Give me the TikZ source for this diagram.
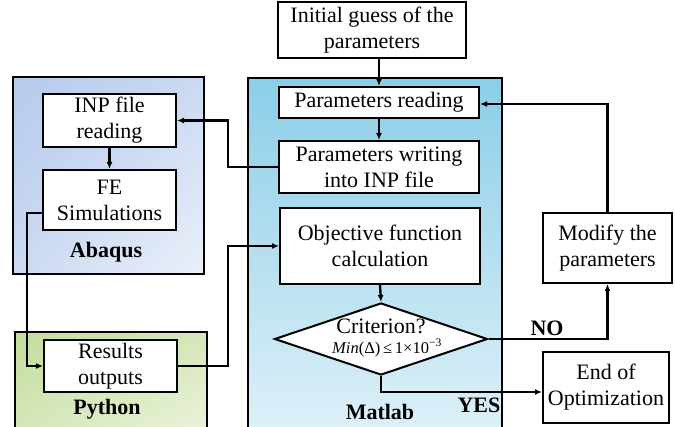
\documentclass[tikz,border=0pt]{standalone}
\usepackage{fontspec}
\setmainfont{Liberation Serif}
\usetikzlibrary{shapes.geometric,calc,arrows.meta,shadings}
\definecolor{abaTL}{HTML}{B6CAEC}
\definecolor{abaBR}{HTML}{EAF0FA}
\definecolor{matT}{HTML}{8CCEE8}
\definecolor{matB}{HTML}{DDF0F8}
\definecolor{pyTL}{HTML}{C4DC9E}
\definecolor{pyBR}{HTML}{EAF3DA}
\begin{document}
\begin{tikzpicture}[x=1pt,y=-1pt,
  every node/.style={font=\fontsize{22}{26}\selectfont},
  stepbox/.style={draw=black,fill=white,line width=2pt,align=center,inner sep=0pt},
  panel/.style={draw=black,line width=2.6pt},
  conn/.style={line width=2.4pt,line join=miter,-{Latex[length=7pt,width=6pt]}},
  lbl/.style={font=\fontsize{22}{26}\selectfont\bfseries}]
\useasboundingbox (0,0) rectangle (675,427);
% panels
\shade[upper left=abaTL,upper right=abaTL!60!abaBR,lower left=abaTL!60!abaBR,lower right=abaBR] (13,77) rectangle (204,274);
\draw[panel] (13,77) rectangle (204,274);
\shade[top color=matT,bottom color=matB] (248,78) rectangle (502,430);
\draw[panel] (248,430) -- (248,78) -- (502,78) -- (502,430);
\shade[upper left=pyTL,upper right=pyTL!55!pyBR,lower left=pyTL!55!pyBR,lower right=pyBR] (15,332) rectangle (207,430);
\draw[panel] (15,430) -- (15,332) -- (207,332) -- (207,430);
% nodes
\node[stepbox,minimum width=188pt,minimum height=56pt] (init) at (372,30) {Initial guess of the\\parameters};
\node[stepbox,minimum width=200pt,minimum height=31pt] (pread) at (379,102.5) {Parameters reading};
\node[stepbox,minimum width=200pt,minimum height=52pt] (pwrite) at (379,167) {Parameters writing\\into INP file};
\node[stepbox,minimum width=200pt,minimum height=76pt] (obj) at (380,246) {Objective function\\calculation};
\node[draw=black,fill=white,line width=2pt,diamond,aspect=2.96,minimum width=213pt,minimum height=72pt,inner sep=0pt,align=center] (crit) at (381,339) {};
\node[inner sep=0pt] (crittxt) at (381,326) {Criterion?};
\node[inner sep=0pt,font=\fontsize{16.5}{18}\selectfont] (critmath) at (387,348) {\textit{Min}(Δ)\,≤\,1×10\textsuperscript{−3}};
\node[stepbox,minimum width=129pt,minimum height=70pt] (modify) at (607.5,248) {Modify the\\parameters};
\node[stepbox,minimum width=126pt,minimum height=71pt] (endopt) at (606,387.5) {End of\\Optimization};
\node[stepbox,minimum width=133pt,minimum height=53pt] (inp) at (109.5,120.5) {INP file\\reading};
\node[stepbox,minimum width=133pt,minimum height=60pt] (fe) at (109.5,200) {FE\\Simulations};
\node[stepbox,minimum width=133pt,minimum height=52pt] (results) at (110.5,366) {Results\\outputs};
% labels
\node[lbl] (labaqus) at (106,252) {Abaqus};
\node[lbl] (lpython) at (107,409) {Python};
\node[lbl] (lmatlab) at (380,412) {Matlab};
\node[lbl] (lno) at (547,328) {NO};
\node[lbl] (lyes) at (479,405) {YES};
% connectors
\draw[conn] (init.south -| pread.north) -- (pread.north);
\draw[conn] (pread.south) -- (pwrite.north);
\draw[conn] (obj.south) -- (crit.north);
\draw[conn] (inp.south) -- (fe.north);
\coordinate (c1) at (228,167);
\draw[conn] (pwrite.west) -- (c1) |- (inp.east);
\coordinate (c2) at (27,213);
\draw[conn] ($(fe.west)+(0,13)$) -- (c2) |- (results.west);
\coordinate (c3) at (228,366);
\draw[conn] (results.east) -- (c3) |- (obj.west);
\draw[conn] (crit.east) -| (modify.south);
\draw[conn] (modify.north) |- ($(pread.east)+(0,1.5)$);
\draw[conn] (crit.south) |- ($(endopt.west)+(0,4.5)$);
\end{tikzpicture}
\end{document}
